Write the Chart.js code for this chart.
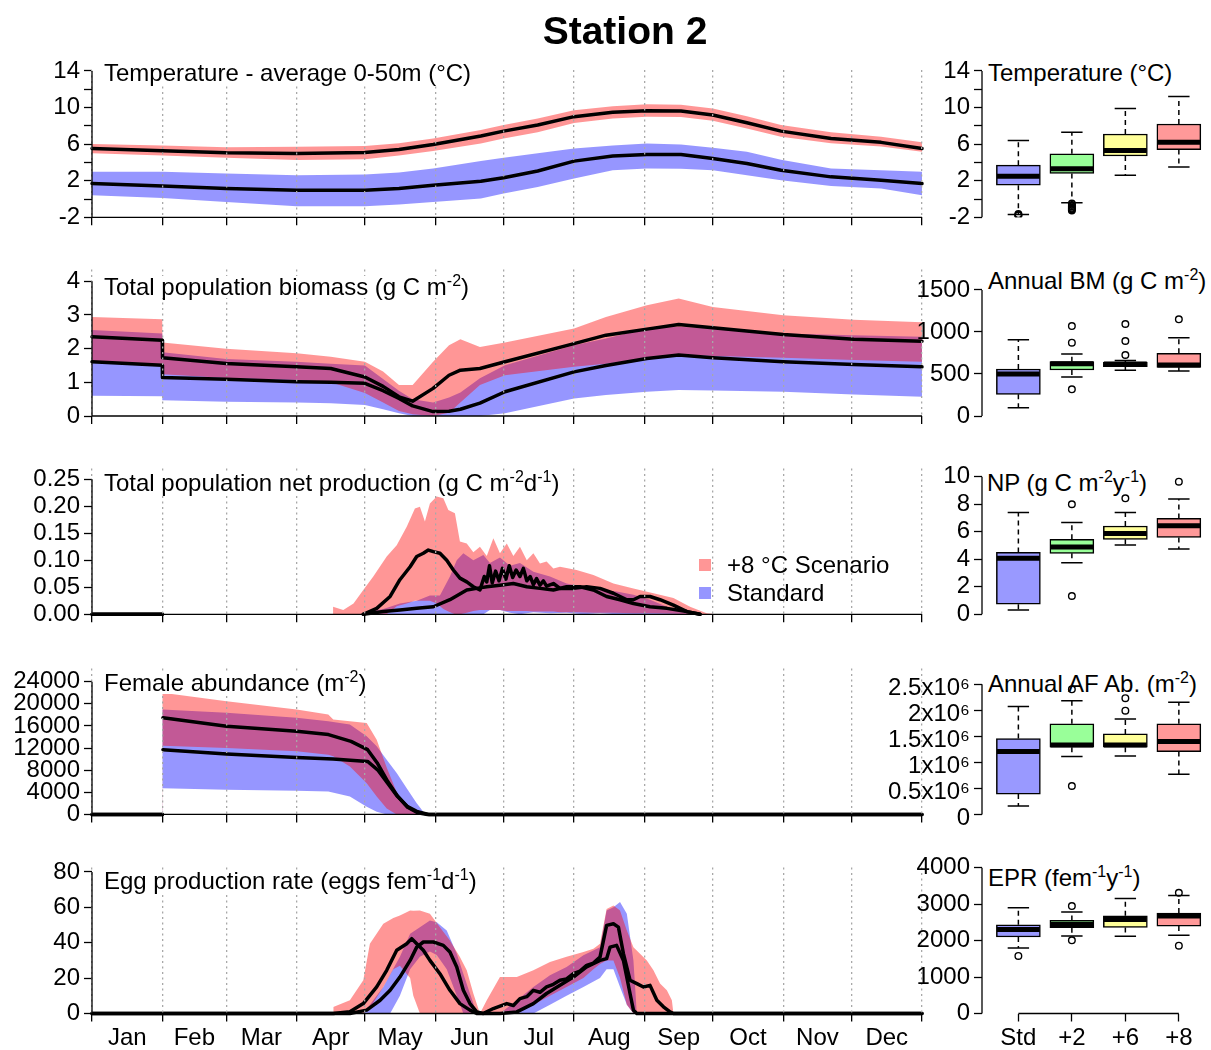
<!DOCTYPE html>
<html><head><meta charset="utf-8">
<script src="https://cdn.jsdelivr.net/npm/chart.js@4.4.1/dist/chart.umd.min.js"></script>
<style>
html,body{margin:0;padding:0;background:#fff;}
#wrap{position:relative;width:1211px;height:1050px;overflow:hidden;font-family:"Liberation Sans",Arial,sans-serif;color:#000;background:#fff;}
canvas{position:absolute;z-index:2;}
.lbl{position:absolute;font-size:24px;line-height:22px;white-space:nowrap;}
.lbl.bg{background:#fff;z-index:5;}
.lbl.back{z-index:1;}
.lbl sup{font-size:16px;line-height:0;vertical-align:9px;}
#title{position:absolute;left:0;width:1250px;text-align:center;top:11px;font-size:39px;line-height:39px;font-weight:bold;z-index:5;}
.sq{position:absolute;width:12px;height:12px;z-index:5;}
</style></head>
<body><div id="wrap">
<div id="title">Station 2</div>
<div class="lbl bg" style="left:104px;top:62px">Temperature - average 0-50m (°C)</div>
<div class="lbl bg" style="left:104px;top:276px">Total population biomass (g C m<sup>-2</sup>)</div>
<div class="lbl bg" style="left:104px;top:472px">Total population net production (g C m<sup>-2</sup>d<sup>-1</sup>)</div>
<div class="lbl bg" style="left:104px;top:672px">Female abundance (m<sup>-2</sup>)</div>
<div class="lbl bg" style="left:104px;top:870px">Egg production rate (eggs fem<sup>-1</sup>d<sup>-1</sup>)</div>
<div class="lbl back" style="left:988px;top:62px">Temperature (°C)</div>
<div class="lbl back" style="left:988px;top:270px">Annual BM (g C m<sup>-2</sup>)</div>
<div class="lbl back" style="left:987px;top:472px">NP (g C m<sup>-2</sup>y<sup>-1</sup>)</div>
<div class="lbl back" style="left:988px;top:673px">Annual AF Ab. (m<sup>-2</sup>)</div>
<div class="lbl back" style="left:988px;top:867px">EPR (fem<sup>-1</sup>y<sup>-1</sup>)</div>
<div class="sq" style="left:699px;top:559px;background:rgb(255,150,150)"></div>
<div class="lbl" style="left:727px;top:554px;z-index:5">+8 °C Scenario</div>
<div class="sq" style="left:699px;top:587px;background:rgb(150,150,255)"></div>
<div class="lbl" style="left:727px;top:582px;z-index:5">Standard</div>
</div>
<script>
// ---------------- DATA ----------------
const MONTHS = ['Jan','Feb','Mar','Apr','May','Jun','Jul','Aug','Sep','Oct','Nov','Dec'];
const MONTH_STARTS = [0,31,59,90,120,151,181,212,243,273,304,334,365];
const GROUPS = ['Std','+2','+6','+8'];

// Temperature (°C), day of year
const tempDays    = [0,31,59,90,120,135,150,171,181,196,212,229,244,259,273,288,303,325,347,365];
const tempRedMed  = [5.53,5.27,5.05,4.98,5.09,5.4,5.95,6.88,7.42,8.08,9.0,9.47,9.65,9.62,9.18,8.34,7.42,6.62,6.19,5.53];
const tempRedTop  = [6.0,5.85,5.65,5.7,5.8,6.1,6.6,7.53,8.1,8.8,9.7,10.15,10.35,10.3,9.9,9.05,8.08,7.3,6.8,6.19];
const tempRedLow  = [5.0,4.75,4.5,4.25,4.35,4.75,5.25,6.08,6.6,7.3,8.3,8.8,9.0,8.95,8.55,7.7,6.8,6.1,5.75,5.16];
const tempBlueMed = [1.69,1.43,1.14,0.96,0.96,1.14,1.5,1.95,2.33,3.06,4.14,4.69,4.87,4.87,4.43,3.88,3.15,2.42,2.05,1.69];
const tempBlueTop = [2.97,2.97,2.79,2.6,2.68,2.9,3.33,4.14,4.5,5.0,5.53,5.85,6.08,5.97,5.6,5.16,4.3,3.33,3.15,2.97];
const tempBlueLow = [0.41,0.12,-0.32,-0.8,-0.8,-0.6,-0.32,0.05,0.6,1.32,2.24,3.15,3.33,3.3,3.15,2.6,2.05,1.43,1.14,0.41];

// Total population biomass (g C m-2)
const bmDays    = [0,30.9,31,59,90,105,120,128,135,141,150,157,162,170.6,181.6,212,226,244,258,273,304,335,365];
const bmRedTop  = [2.94,2.87,2.18,2.0,1.86,1.76,1.61,1.32,0.92,0.92,1.61,2.1,2.28,2.05,2.18,2.6,2.94,3.29,3.49,3.24,2.99,2.86,2.78];
const bmRedLow  = [1.61,1.51,1.24,1.13,1.07,1.0,0.68,0.4,0.15,0.05,0.0,0.1,0.4,0.92,1.21,1.46,1.55,1.71,1.83,1.78,1.73,1.66,1.61];
const bmBlueTop = [2.55,2.45,1.89,1.69,1.61,1.55,1.5,1.1,0.75,0.5,0.4,0.55,0.7,1.12,1.51,2.1,2.3,2.6,2.65,2.6,2.45,2.4,2.35];
const bmBlueLow = [0.6,0.59,0.47,0.42,0.4,0.38,0.33,0.2,0.08,0.0,0.0,0.0,0.0,0.0,0.08,0.52,0.62,0.72,0.77,0.76,0.72,0.64,0.57];
const bmRedMed  = [2.35,2.25,1.73,1.56,1.46,1.41,1.16,0.88,0.57,0.44,0.82,1.21,1.36,1.41,1.61,2.15,2.4,2.58,2.72,2.62,2.42,2.28,2.22];
const bmBlueMed = [1.61,1.51,1.14,1.09,1.02,1.0,0.97,0.75,0.52,0.3,0.13,0.14,0.2,0.38,0.72,1.31,1.5,1.71,1.81,1.73,1.61,1.53,1.46];

// Net production (g C m-2 d-1)
const npRedDays = [106,110.5,115,119.3,123.7,129.6,134,138.4,142,144.2,146.4,148.6,151.6,154.5,156.7,159.6,161.8,164.8,167.7,170.6,173.6,176.5,179.4,182.4,185.3,188.2,191.2,194.1,197,199.9,202.9,205.8,213.1,220.5,229.3,238.1,246.9,255.7,263,270.3,274.7];
const npRedTop  = [0.014,0.008,0.02,0.045,0.07,0.107,0.128,0.162,0.196,0.199,0.172,0.205,0.218,0.215,0.193,0.187,0.135,0.131,0.115,0.125,0.108,0.141,0.113,0.131,0.108,0.125,0.1,0.113,0.094,0.098,0.085,0.088,0.082,0.073,0.057,0.048,0.039,0.03,0.014,0.002,0];
const npRedLow  = [0,0,0,0,0,0,0.015,0.02,0.025,0.025,0.025,0.025,0.02,0.01,0.005,0,0,0.003,0.006,0.008,0.008,0.008,0.008,0.006,0.006,0.006,0.006,0.005,0.005,0.005,0.005,0.004,0.004,0.003,0.003,0.002,0.002,0.001,0,0,0];
const npBlueDays = [119.3,120.8,128.1,135.4,142.8,148.6,153,157.4,160.4,163.3,167.7,172.1,175,179.4,183.8,188.2,194.1,201.4,208.7,216.1,223.4,230.7,238.1,245.4,252.8,260.1,267.4];
const npBlueTop  = [0,0.005,0.01,0.02,0.025,0.035,0.035,0.07,0.1,0.113,0.1,0.11,0.095,0.105,0.09,0.095,0.079,0.07,0.057,0.051,0.045,0.042,0.036,0.027,0.014,0.005,0];
const npBlueLow  = [0,0,0,0,0,0,0,0,0,0,0,0,0.008,0.008,0.003,0,0.004,0.002,0.003,0,0.002,0,0,0,0,0,0];
const npRedMed = [[0,0],[31,0],[31.5,null],[119.3,0],[125.2,0.011],[131.1,0.033],[135.4,0.064],[139.9,0.088],[142.8,0.107],[145.7,0.113],[147.9,0.119],[150.1,0.116],[153,0.113],[156,0.1],[158.9,0.082],[161.8,0.067],[164.8,0.06],[167.7,0.051],[170.6,0.045],[172.5,0.07],[173.6,0.06],[174.8,0.09],[176,0.058],[177.5,0.08],[179,0.062],[180.5,0.085],[182,0.065],[183.5,0.09],[185,0.068],[186.5,0.082],[188.2,0.07],[189.7,0.085],[191.2,0.062],[192.7,0.07],[194.1,0.055],[195.5,0.066],[197,0.054],[198.5,0.062],[199.9,0.052],[202.9,0.057],[205.8,0.048],[211.7,0.048],[217.5,0.051],[223.4,0.048],[229.3,0.039],[235.2,0.027],[238.1,0.027],[241,0.033],[245.4,0.033],[249.8,0.027],[255.7,0.017],[261.6,0.005],[267.4,0]];
const npBlueMed = [[0,0],[31,0],[31.5,null],[119.3,0],[128.1,0.005],[135.4,0.008],[142.8,0.011],[150.1,0.014],[157.4,0.027],[164.8,0.045],[169.2,0.048],[173.6,0.051],[179.4,0.054],[185.3,0.057],[191.2,0.051],[197,0.048],[202.9,0.045],[208.7,0.051],[214.6,0.051],[220.5,0.045],[226.3,0.033],[232.2,0.027],[238.1,0.02],[245.4,0.014],[252.8,0.011],[261.6,0.005],[267.4,0]];

// Female abundance (m-2)
const afRedDays = [0,30.9,31,59.2,90,103.9,106.1,113.4,120.8,125.2,129.6,134,138.4,142.8,147,365];
const afRedTop  = [0,0,22010,20490,18980,18070,17160,16850,16560,13500,8500,4000,1500,300,0,0];
const afRedLow  = [0,0,12430,12010,11410,10800,10500,8670,5650,3220,1090,0,0,0,0,0];
const afBlueDays = [0,30.9,31,59.2,90,103.9,113.4,120.8,125.2,129.6,134,138.4,142.8,145.7,148.7,365];
const afBlueTop  = [0,0,19000,18380,17470,16850,16260,14130,12310,9890,7470,4740,2010,490,0,0];
const afBlueLow  = [0,0,4740,4440,4260,4130,3220,1400,490,0,0,0,0,0,0,0];
const afRedMed  = [[0,0],[31,0],[31.1,null],[31.2,17470],[59.2,15950],[90,15040],[104,14440],[113.9,13220],[121.2,11710],[125.6,9200],[130,6000],[134.4,3300],[138.8,1300],[143.2,300],[147.6,0],[365,0]];
const afBlueMed = [[0,0],[31,0],[31.1,null],[31.2,11710],[59.2,10920],[90,10310],[106,10020],[121.2,9580],[125.6,8070],[130,5650],[134.4,3220],[138.8,1400],[143.2,490],[148,0],[365,0]];

// Egg production rate (eggs fem-1 d-1)
const eprRedDays = [106.1,113.4,119.3,122.2,128.1,132.5,135.4,139.9,141.3,144.2,148.6,153,157.4,161.8,164.8,167.7,170.6,173.6,179.4,186.8,194.1,201.4,208.7,216.1,220.5,223.4,226.3,229.3,232.2,235.2,238.1,241,244,246.9,249.8,252.8,255,255.7];
const eprRedTop  = [3.7,7.5,18.8,39.4,50.7,54,55.4,58.2,58,58.2,56.3,48.8,41.3,31.9,24.4,11.3,0,7.5,20.6,20.6,24.4,29.1,32,34.7,36.6,39.4,59.1,61,58.2,46.9,37.5,33.8,30,24.4,16.9,13.1,7.5,0];
const eprRedLow  = [0,0,0,3,15,25,27,20,10,0,0,0,0,0,0,0,0,0,0,0,5,10,15,20,25,28,30,30,20,5,0,0,0,0,0,0,0,0];
const eprBlueDays = [119.3,128.1,131.1,135.4,139.9,144.2,148.6,151.6,156,160.4,163.3,166.2,169.2,179.4,186.8,194.1,201.4,208.7,216.1,223.4,226.3,229.3,232.2,235.2,238.1,239.6];
const eprBlueTop  = [0,15,22,32,45,48.8,52.6,51.6,46.9,33.8,22.5,11.3,0,0,7.5,15,21.6,26.3,32.9,37.5,58.2,60,63,56.3,30,0];
const eprBlueLow  = [0,0,0,10,25,32,35,33,25,10,0,0,0,0,0,0,5,10,15,20,25,25,15,5,0,0];
const eprRedMed = [[0,0],[106.1,0],[113.4,1],[119.3,5.6],[125.2,15],[129.6,24.4],[134,35.7],[138.4,39.4],[140.6,42.3],[142.8,39.4],[145.7,35.7],[148.6,30],[153,22.5],[157.4,13.1],[161.8,5.6],[166.2,1.9],[169.2,0],[172,0],[176.5,2.8],[182.4,5.6],[185.3,4.5],[188.2,8.4],[191.2,9.5],[194.1,13.1],[197,12],[199.9,15],[202.9,16.5],[205.8,18.8],[208.7,19.5],[211.7,22.5],[214.6,24],[217.5,27.2],[220.5,28.5],[223.4,31.9],[226.3,49.8],[229.3,50.7],[231.5,48.8],[233.7,33.8],[236.6,18.8],[239.6,16.9],[242.5,15],[245.4,15.9],[248.4,7.5],[251.3,3.8],[254.2,0.9],[255.7,0],[365,0]];
const eprBlueMed = [[0,0],[113.4,0],[120.8,1.9],[126.7,7.5],[131.1,13.1],[135.4,20.6],[139.9,30],[142.8,37.5],[145.7,40.4],[150.1,40.4],[154.5,38.5],[157.4,34.7],[160.4,26.3],[163.3,13.1],[166.2,5.6],[169.2,0.9],[172.1,0],[179.4,0],[186.8,0.9],[194.1,5.6],[199.9,11.3],[205.8,15.9],[211.7,20.6],[217.5,26.3],[223.4,30],[226.3,31],[227.8,37.5],[230.7,38.5],[233.7,30],[236.6,11.3],[238.1,1.9],[239.6,0],[365,0]];

// Box plots: [lower whisker, Q1, median, Q3, upper whisker]; outliers [group, value]
const tempBox = [[-1.7,1.5,2.5,3.7,6.4],[-0.4,2.8,3.3,4.95,7.3],[2.6,4.7,5.3,7.1,9.9],[3.5,5.4,6.2,8.2,11.2]];
const tempOut = [[1,-1.65],[1,-1.75],[1,-1.8],[2,-0.5],[2,-0.65],[2,-0.8],[2,-0.95],[2,-1.05],[2,-1.15],[2,-1.25]];
const bmBox = [[99,258,500,560,909],[464,548,623,647,738],[544,587,619,643,660],[536,579,607,746,933]];
const bmOut = [[2,1071],[2,873],[2,317],[3,1095],[3,893],[3,726],[4,1151]];
const npBox = [[0.31,0.73,4.07,4.5,7.4],[3.75,4.43,4.9,5.45,6.68],[5.04,5.45,5.88,6.42,7.41],[4.75,5.59,6.44,6.97,8.38]];
const npOut = [[2,8.0],[2,1.33],[3,8.43],[4,9.64]];
const afBox = [[160000,390000,1205000,1455000,2070000],[1110000,1290000,1330000,1740000,2180000],[1120000,1290000,1330000,1545000,1830000],[770000,1205000,1400000,1740000,2150000]];
const afOut = [[2,2400000],[2,545000],[3,2230000],[3,1990000]];
const eprBox = [[1799,2100,2310,2438,2904],[2128,2356,2447,2557,2785],[2119,2365,2584,2685,3160],[2146,2402,2676,2758,3242]];
const eprOut = [[1,1580],[2,2950],[2,2009],[4,3315],[4,1863]];

// Tick values
const tempTicks = [-2,0,2,4,6,8,10,12,14];
const bmTicks = [0,1,2,3,4];
const npTicks = [0,0.05,0.1,0.15,0.2,0.25];
const afTicks = [0,4000,8000,12000,16000,20000,24000];
const eprTicks = [0,20,40,60,80];
const bmBoxTicks = [0,500,1000,1500];
const npBoxTicks = [0,2,4,6,8,10];
const afBoxTicks = [0,500000,1000000,1500000,2000000,2500000];
const afBoxLabels = ['0','0.5x10⁶','1x10⁶','1.5x10⁶','2x10⁶','2.5x10⁶'];
const eprBoxTicks = [0,1000,2000,3000,4000];

// ---------------- STYLE / LAYOUT ----------------
const BOX_COLORS = ['#9999FF','#99FF99','#FFFF99','#FF9999'];
const RED_FILL = 'rgba(255,0,0,0.41)';
const BLUE_FILL = 'rgba(0,0,255,0.41)';
const GRID_COLOR = '#a8a8a8';
const ROWS = [
  {top:70, bottom:217.3}, {top:269.5, bottom:416}, {top:468.5, bottom:614.3},
  {top:668.5, bottom:814.4}, {top:867.5, bottom:1013.5}
];
const MID_MONTHS = MONTHS.map((m,i)=>(MONTH_STARTS[i]+MONTH_STARTS[i+1])/2);
const X_TICKS = MONTH_STARTS.concat(MID_MONTHS).sort((a,b)=>a-b);

Chart.defaults.font.family = "'Liberation Sans', Arial, sans-serif";
Chart.defaults.font.size = 24;
Chart.defaults.color = '#000';

const rAxes = {
  id: 'rAxes',
  afterDraw(chart, args, opts) {
    const ctx = chart.ctx, a = chart.chartArea;
    ctx.save(); ctx.strokeStyle = '#000'; ctx.lineWidth = 1.3; ctx.setLineDash([]);
    if (opts.x) { const s = chart.scales.x; ctx.beginPath(); ctx.moveTo(s.getPixelForValue(opts.x[0]), a.bottom); ctx.lineTo(s.getPixelForValue(opts.x[1]), a.bottom); ctx.stroke(); }
    if (opts.y) { const s = chart.scales.y; ctx.beginPath(); ctx.moveTo(a.left, s.getPixelForValue(opts.y[0])); ctx.lineTo(a.left, s.getPixelForValue(opts.y[1])); ctx.stroke(); }
    ctx.restore();
  }
};
Chart.register(rAxes);

const wrap = document.getElementById('wrap');
function makeCanvas(left, top, w, h) {
  const c = document.createElement('canvas');
  c.width = w; c.height = h;
  c.style.left = left + 'px'; c.style.top = top + 'px';
  c.style.width = w + 'px'; c.style.height = h + 'px';
  wrap.appendChild(c); return c;
}
const pts = (days, vals) => days.map((d,i)=>({x:d, y:vals[i]}));
const pairs = arr => arr.map(p=>({x:p[0], y:p[1]}));

function band(days, top, low, color) {
  return [
    {type:'line', data:pts(days, top), fill:'+1', backgroundColor:color, borderColor:'rgba(0,0,0,0)', borderWidth:0, pointRadius:0, tension:0},
    {type:'line', data:pts(days, low), fill:false, borderColor:'rgba(0,0,0,0)', borderWidth:0, pointRadius:0, tension:0}
  ];
}
function med(data) {
  return {type:'line', data, fill:false, borderColor:'#000', borderWidth:3.5, pointRadius:0, tension:0,
          spanGaps:false, clip:6, borderJoinStyle:'round', borderCapStyle:'round'};
}
const isStart = c => c.tick && MONTH_STARTS.includes(c.tick.value);

function leftChart(rowIdx, yMin, yMax, yTicks, yLabel, datasets, months) {
  const row = ROWS[rowIdx];
  const cTop = Math.floor(row.top) - 30;
  const xh = months ? 44 : 22;
  const h = Math.ceil(row.bottom - cTop) + xh;
  const xAxisH = h - (row.bottom - cTop);
  const W = 940;
  const cv = makeCanvas(0, cTop, W, h);
  new Chart(cv, {
    type:'line',
    data:{datasets},
    options:{
      responsive:false, animation:false, devicePixelRatio:1, events:[],
      layout:{padding:{top:row.top - cTop, left:0, right:W-922, bottom:0}},
      plugins:{legend:{display:false}, tooltip:{enabled:false}, rAxes:{x:[0,365], y:[yTicks[0], yTicks[yTicks.length-1]]}},
      scales:{
        x:{type:'linear', min:0, max:365, offset:false,
           afterBuildTicks:s=>{s.ticks = X_TICKS.map(v=>({value:v}));},
           afterFit:s=>{s.height = xAxisH;},
           grid:{display:true, drawOnChartArea:true, drawTicks:true, tickLength:8, lineWidth:1.3, tickWidth:1.3, z:1,
                 color:c=>isStart(c)?GRID_COLOR:'rgba(0,0,0,0)', tickColor:c=>isStart(c)?'#000':'rgba(0,0,0,0)'},
           border:{display:false, dash:[2,3.5]},
           ticks:{display:months, autoSkip:false, maxRotation:0, minRotation:0, padding:2, color:'#000',
                  callback:v=>{const i = MID_MONTHS.indexOf(v); return i>=0 ? MONTHS[i] : '';}}},
        y:{type:'linear', min:yMin, max:yMax,
           afterBuildTicks:s=>{s.ticks = yTicks.map(v=>({value:v}));},
           afterFit:s=>{s.width = 92;},
           grid:{drawOnChartArea:false, drawTicks:true, tickLength:8, tickColor:'#000', tickWidth:1.3},
           border:{display:false},
           ticks:{autoSkip:false, padding:4, color:'#000', callback:yLabel}}
      }
    }
  });
}

function boxChart(rowIdx, yMin, yMax, yTicks, yLabel, stats, outl, showX, labelShift) {
  const row = ROWS[rowIdx];
  const cTop = Math.floor(row.top) - 30;
  const xh = showX ? 44 : 22;
  const h = Math.ceil(row.bottom - cTop) + xh;
  const xAxisH = h - (row.bottom - cTop);
  const L = 880, W = 1211 - L;
  const cv = makeCanvas(L, cTop, W, h);
  const medData = [], whisk = [], caps = [];
  stats.forEach((s,i)=>{
    const x = i+1;
    medData.push({x:x-0.4,y:s[2]},{x:x+0.4,y:s[2]},{x:x+0.45,y:null});
    whisk.push({x:x,y:s[3]},{x:x,y:s[4]},{x:x,y:null},{x:x,y:s[1]},{x:x,y:s[0]},{x:x,y:null});
    caps.push({x:x-0.2,y:s[4]},{x:x+0.2,y:s[4]},{x:x+0.21,y:null},{x:x-0.2,y:s[0]},{x:x+0.2,y:s[0]},{x:x+0.21,y:null});
  });
  const lineBase = {type:'line', fill:false, borderColor:'#000', pointRadius:0, tension:0, spanGaps:false};
  new Chart(cv, {
    type:'bar',
    data:{datasets:[
      {type:'scatter', data:pairs(outl), pointRadius:3.3, borderWidth:1.4, borderColor:'#000', backgroundColor:'rgba(0,0,0,0)', order:0},
      Object.assign({}, lineBase, {data:medData, borderWidth:5, borderCapStyle:'butt', order:1}),
      Object.assign({}, lineBase, {data:caps, borderWidth:1.5, order:2}),
      Object.assign({}, lineBase, {data:whisk, borderWidth:1.5, borderDash:[5,4], order:3}),
      {type:'bar', data:stats.map((s,i)=>({x:i+1, y:[s[1], s[3]]})), backgroundColor:BOX_COLORS, borderColor:'#000',
       borderWidth:1.5, borderSkipped:false, barThickness:44, order:4}
    ]},
    options:{
      responsive:false, animation:false, devicePixelRatio:1, events:[],
      layout:{padding:{top:row.top - cTop, left:0, right:0, bottom:0}},
      plugins:{legend:{display:false}, tooltip:{enabled:false}, rAxes:{x: showX ? [1,4] : null, y:[yTicks[0], yTicks[yTicks.length-1]]}},
      scales:{
        x:{type:'linear', min:0.32, max:4.5, offset:false, display:true,
           afterBuildTicks:s=>{s.ticks = [1,2,3,4].map(v=>({value:v}));},
           afterFit:s=>{s.height = xAxisH;},
           grid:{display:showX, offset:false, drawOnChartArea:false, drawTicks:showX, tickLength:8, tickColor:'#000', tickWidth:1.3},
           border:{display:false},
           ticks:{display:showX, autoSkip:false, maxRotation:0, minRotation:0, padding:2, color:'#000', callback:v=>GROUPS[v-1]}},
        y:{type:'linear', min:yMin, max:yMax,
           afterBuildTicks:s=>{s.ticks = yTicks.map(v=>({value:v}));},
           afterFit:s=>{s.width = 982 - L;},
           grid:{drawOnChartArea:false, drawTicks:true, tickLength:8, tickColor:'#000', tickWidth:1.3},
           border:{display:false},
           ticks:{autoSkip:false, padding:4, color:'#000', labelOffset:labelShift || 0, callback:yLabel}}
      }
    }
  });
}

const every4 = v => ((v + 2) % 4 === 0 ? String(v) : '');

leftChart(0, -2, 14.1, tempTicks, every4, [
  med(pts(tempDays, tempRedMed)), med(pts(tempDays, tempBlueMed)),
  ...band(tempDays, tempRedTop, tempRedLow, RED_FILL), ...band(tempDays, tempBlueTop, tempBlueLow, BLUE_FILL)], false);
leftChart(1, 0, 4.35, bmTicks, v=>String(v), [
  med(pts(bmDays, bmRedMed)), med(pts(bmDays, bmBlueMed)),
  ...band(bmDays, bmRedTop, bmRedLow, RED_FILL), ...band(bmDays, bmBlueTop, bmBlueLow, BLUE_FILL)], false);
leftChart(2, 0, 0.27, npTicks, v=>v.toFixed(2), [
  med(pairs(npRedMed)), med(pairs(npBlueMed)),
  ...band(npRedDays, npRedTop, npRedLow, RED_FILL), ...band(npBlueDays, npBlueTop, npBlueLow, BLUE_FILL)], false);
leftChart(3, 0, 26400, afTicks, v=>String(v), [
  med(pairs(afRedMed)), med(pairs(afBlueMed)),
  ...band(afRedDays, afRedTop, afRedLow, RED_FILL), ...band(afBlueDays, afBlueTop, afBlueLow, BLUE_FILL)], false);
leftChart(4, 0, 82.5, eprTicks, v=>String(v), [
  med(pairs(eprRedMed)), med(pairs(eprBlueMed)),
  ...band(eprRedDays, eprRedTop, eprRedLow, RED_FILL), ...band(eprBlueDays, eprBlueTop, eprBlueLow, BLUE_FILL)], true);

boxChart(0, -2, 14.1, tempTicks, every4, tempBox, tempOut, false);
boxChart(1, 0, 1744, bmBoxTicks, v=>String(v), bmBox, bmOut, false);
boxChart(2, 0, 10.6, npBoxTicks, v=>String(v), npBox, npOut, false);
boxChart(3, 0, 2800000, afBoxTicks, v=>afBoxLabels[afBoxTicks.indexOf(v)] || '', afBox, afOut, false, 4);
boxChart(4, 0, 4010, eprBoxTicks, v=>String(v), eprBox, eprOut, true);
</script>
</body></html>
